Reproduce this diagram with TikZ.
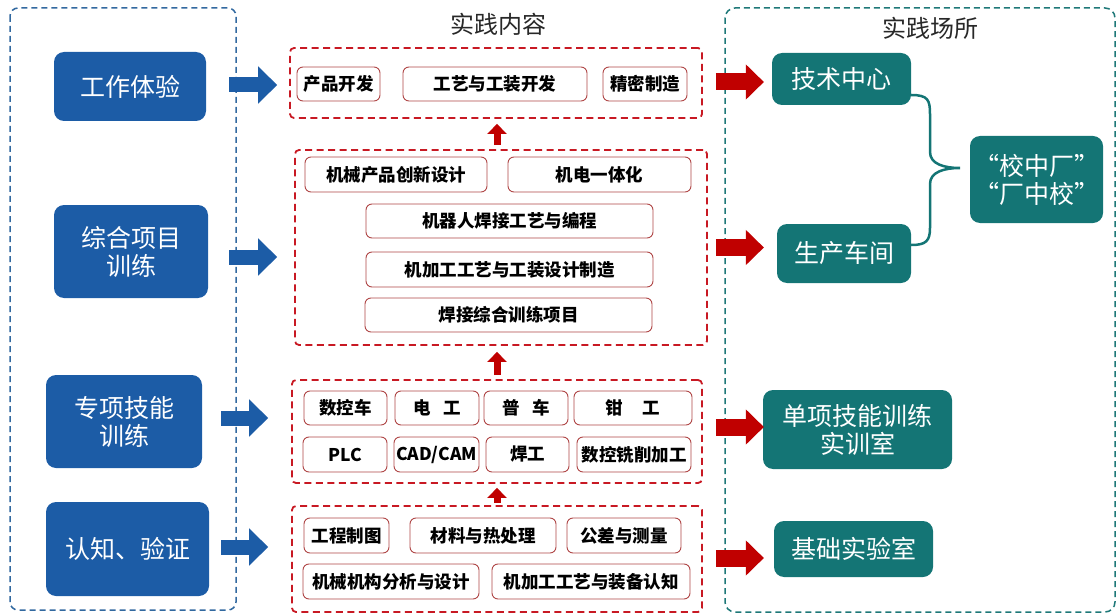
\documentclass[tikz,border=0pt]{standalone}
\usepackage{fontspec}
\setmainfont{Noto Sans CJK SC}
\usetikzlibrary{arrows.meta}
\definecolor{bluefill}{RGB}{28,92,166}
\definecolor{bluedash}{RGB}{50,105,160}
\definecolor{tealfill}{RGB}{20,117,117}
\definecolor{tealdash}{RGB}{30,120,120}
\definecolor{redarr}{RGB}{192,0,0}
\definecolor{reddash}{RGB}{200,25,35}
\definecolor{innerred}{RGB}{175,70,70}
\definecolor{titlegray}{RGB}{40,40,40}
\tikzset{
  bnode/.style={fill=bluefill, rounded corners=10pt, text=white, align=center, inner sep=0pt,
    font=\fontsize{25pt}{28pt}\selectfont},
  tnode/.style={fill=tealfill, rounded corners=10pt, text=white, align=center, inner sep=0pt,
    font=\fontsize{25pt}{28pt}\selectfont},
  rbox/.style={draw=reddash, line width=1.8pt, dash pattern=on 7pt off 4.5pt, rounded corners=4pt, inner sep=0pt},
  ibox/.style={draw=innerred, line width=0.9pt, fill=white, rounded corners=6pt, inner sep=0pt, text=black,
    font=\bfseries\fontsize{17.5pt}{20pt}\selectfont},
  titletext/.style={text=titlegray, font=\fontsize{24pt}{26pt}\selectfont, inner sep=0pt},
  barrow/.style={draw=bluefill, line width=15pt, -{Triangle[length=19pt,width=36pt]}},
  rarrow/.style={draw=redarr, line width=17pt, -{Triangle[length=18pt,width=34pt]}},
  uarrow/.style={draw=redarr, line width=7pt, -{Triangle[length=10pt,width=19pt]}},
  bracepath/.style={draw=tealfill, line width=2.5pt},
}
\begin{document}
\begin{tikzpicture}[x=1pt,y=-1pt]
\useasboundingbox (0,0) rectangle (1117,615);
% outer dashed frames
\draw[bluedash, line width=1.5pt, dash pattern=on 6pt off 4pt, rounded corners=8pt] (10,8) rectangle (236,610);
\draw[tealdash, line width=1.5pt, dash pattern=on 6pt off 4pt, rounded corners=10pt] (725,8) rectangle (1115,612);
% titles
\node[titletext] (tmid) at (498,24) {实践内容};
\node[titletext] (tright) at (930,28) {实践场所};
% left blue nodes
\node[bnode, minimum width=152pt, minimum height=69pt] (w1) at (130,86.5) {工作体验};
\node[bnode, minimum width=154pt, minimum height=93pt] (w2) at (131,251.5) {综合项目\\训练};
\node[bnode, minimum width=156pt, minimum height=93pt] (w3) at (124,421.5) {专项技能\\训练};
\node[bnode, minimum width=163pt, minimum height=94pt] (w4) at (127.5,549) {认知、验证};
% red dashed containers
\node[rbox, minimum width=412pt, minimum height=70pt] (r1) at (496,83) {};
\node[rbox, minimum width=412pt, minimum height=195pt] (r2) at (501,247.5) {};
\node[rbox, minimum width=410pt, minimum height=103pt] (r3) at (497,431.5) {};
\node[rbox, minimum width=410pt, minimum height=106pt] (r4) at (497,559) {};
% r1 items
\node[ibox, minimum width=83pt, minimum height=34pt] (a1) at (338.5,84) {产品开发};
\node[ibox, minimum width=184pt, minimum height=34pt] (a2) at (495,84) {工艺与工装开发};
\node[ibox, minimum width=84pt, minimum height=34pt] (a3) at (645,84) {精密制造};
% r2 items
\node[ibox, minimum width=182pt, minimum height=35pt] (b1) at (396,174.5) {机械产品创新设计};
\node[ibox, minimum width=183pt, minimum height=35pt] (b2) at (599.5,174.5) {机电一体化};
\node[ibox, minimum width=287pt, minimum height=34pt] (b3) at (509.5,221) {机器人焊接工艺与编程};
\node[ibox, minimum width=287pt, minimum height=35pt] (b4) at (509.5,269.5) {机加工工艺与工装设计制造};
\node[ibox, minimum width=287pt, minimum height=34pt] (b5) at (508.5,315) {焊接综合训练项目};
% r3 items
\node[ibox, minimum width=83pt, minimum height=34pt] (c1) at (345.5,408) {数控车};
\node[ibox, minimum width=84pt, minimum height=34pt] (c2) at (437,408) {电\hspace{0.7em}工};
\node[ibox, minimum width=84pt, minimum height=34pt] (c3) at (526,408) {普\hspace{0.7em}车};
\node[ibox, minimum width=118pt, minimum height=34pt] (c4) at (633,408) {钳\hspace{1.1em}工};
\node[ibox, minimum width=84pt, minimum height=35pt] (c5) at (345,454.5) {PLC};
\node[ibox, minimum width=85pt, minimum height=35pt] (c6) at (436.5,454.5) {CAD/CAM};
\node[ibox, minimum width=83pt, minimum height=35pt] (c7) at (527.5,454.5) {焊工};
\node[ibox, minimum width=114pt, minimum height=35pt] (c8) at (634,454.5) {数控铣削加工};
% r4 items
\node[ibox, minimum width=85pt, minimum height=35pt] (d1) at (346.5,535.5) {工程制图};
\node[ibox, minimum width=146pt, minimum height=35pt] (d2) at (483,535.5) {材料与热处理};
\node[ibox, minimum width=114pt, minimum height=35pt] (d3) at (624,535.5) {公差与测量};
\node[ibox, minimum width=176pt, minimum height=35pt] (d4) at (391,581.5) {机械机构分析与设计};
\node[ibox, minimum width=198pt, minimum height=35pt] (d5) at (591,581.5) {机加工工艺与装备认知};
% teal nodes
\node[tnode, minimum width=139pt, minimum height=52pt] (t1) at (841.5,79) {技术中心};
\node[tnode, minimum width=134pt, minimum height=59pt] (t2) at (844,253.5) {生产车间};
\node[tnode, minimum width=133pt, minimum height=87pt] (t3) at (1036.5,179.5) {“校中厂”\\“厂中校”};
\node[tnode, minimum width=189pt, minimum height=79pt] (t4) at (857.5,429.5) {单项技能训练\\实训室};
\node[tnode, minimum width=159pt, minimum height=56pt] (t5) at (853.5,549) {基础实验室};
% blue arrows
\draw[barrow] ([xshift=23pt,yshift=1.5pt]w1.east) -- ([xshift=71pt,yshift=1.5pt]w1.east);
\draw[barrow] ([xshift=21pt,yshift=-5.5pt]w2.east) -- ([xshift=69pt,yshift=-5.5pt]w2.east);
\draw[barrow] ([xshift=19pt,yshift=3.5pt]w3.east) -- ([xshift=66pt,yshift=3.5pt]w3.east);
\draw[barrow] ([xshift=12pt,yshift=2pt]w4.east) -- ([xshift=59pt,yshift=2pt]w4.east);
% up arrows
\draw[uarrow] ([xshift=-4pt,yshift=4pt]r2.north) -- ([yshift=-5pt,xshift=1pt]r1.south);
\draw[uarrow] ([yshift=4pt]r3.north) -- ([yshift=-6pt]r2.south -| r3.north);
\draw[uarrow] ([yshift=2pt]r4.north) -- ([yshift=-4pt]r3.south);
% red arrows
\draw[rarrow] ([xshift=13pt,yshift=1pt]r1.east) -- ([xshift=61pt,yshift=1pt]r1.east);
\draw[rarrow] ([xshift=8pt]r2.east) -- ([xshift=56pt]r2.east);
\draw[rarrow] ([xshift=13pt,yshift=4.5pt]r3.east) -- ([xshift=61pt,yshift=4.5pt]r3.east);
\draw[rarrow] ([xshift=13pt,yshift=1pt]r4.east) -- ([xshift=61pt,yshift=1pt]r4.east);
% brace
\coordinate (brtip) at (960,168);
\draw[bracepath] ([yshift=-16pt]t1.east) .. controls (928,95) and (930,100) .. (930,114) -- (930,152)
  .. controls (930,164) and (944,168) .. (brtip)
  .. controls (944,168) and (930,172) .. (930,184) -- (930,228)
  .. controls (930,241) and (926,245) .. ([yshift=8.5pt]t2.east);
\end{tikzpicture}
\end{document}
